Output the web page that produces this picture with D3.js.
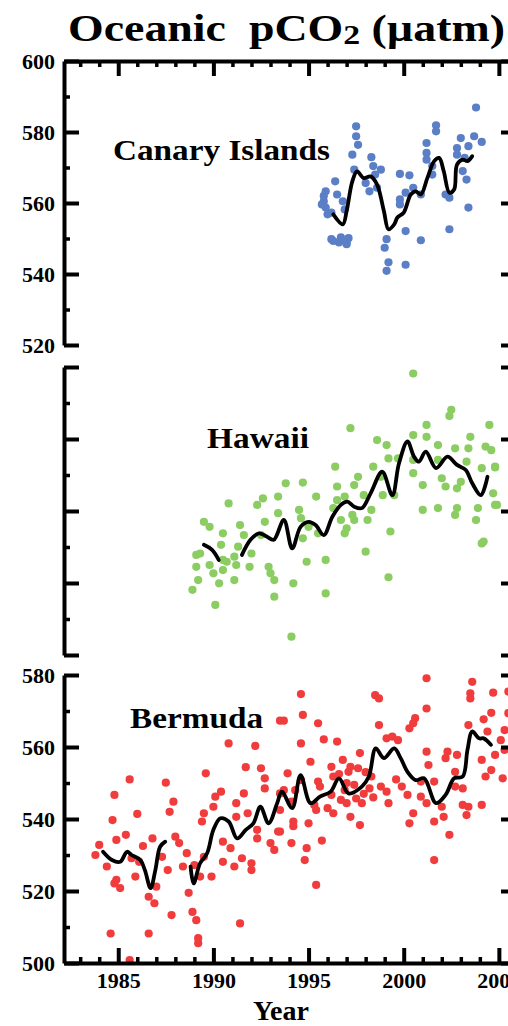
<!DOCTYPE html>
<html>
<head>
<meta charset="utf-8">
<script src="https://cdn.jsdelivr.net/npm/d3@7"></script>
<style>
  body { margin: 0; background: #fff; }
  svg text { font-family: "Liberation Serif", "Times New Roman", serif; font-weight: bold; }
</style>
</head>
<body>
<div id="chart"></div>
<script>
// observed pCO2 samples, [year, uatm]
var canaryObs = [[2003.8,586.9],[1997.5,581.6],[1997.5,578.8],[1997.6,576.4],[2001.7,581.9],[2001.7,580.2],[2001.2,576.9],[2003.0,578.3],[2003.7,578.8],[2004.1,577.2],[2003.4,576.0],[2002.8,575.5],[1997.3,573.6],[1998.3,572.9],[2001.2,574.1],[2001.2,572.2],[2002.8,573.6],[2003.2,572.7],[1997.4,569.4],[1998.4,570.4],[1998.8,569.4],[1998.5,568.0],[1999.8,568.2],[2000.3,567.8],[2001.5,570.4],[2001.5,568.0],[2003.1,569.0],[2003.3,566.6],[1996.4,566.1],[1995.9,563.3],[1995.8,560.5],[1995.9,558.7],[1996.2,557.3],[1996.5,562.4],[1996.8,560.5],[1996.9,558.2],[1998.0,565.6],[1998.2,563.3],[1998.6,564.3],[1999.8,561.0],[2000.1,562.9],[2000.5,564.3],[2000.9,562.4],[2002.2,562.4],[2002.4,561.5],[2003.4,558.7],[1996.2,549.8],[1996.7,550.3],[1997.1,550.1],[1997.0,548.4],[1996.6,548.9],[1999.1,549.8],[1999.0,547.4],[1999.2,543.3],[1999.1,540.9],[2000.1,542.6],[2000.1,552.1],[2000.9,549.5],[2002.4,552.6],[1999.8,559.6],[1995.8,562.0],[1995.7,559.6],[1996.0,556.8],[1996.3,549.3],[1997.0,548.9]];
var hawaiiObs = [[2002.5,368.1],[2002.4,366.4],[2001.2,363.9],[2004.5,363.9],[1997.2,363.0],[2000.5,361.1],[2001.2,360.6],[2003.5,360.6],[1998.6,359.7],[1999.1,358.3],[2001.8,358.3],[2002.7,357.4],[2003.4,357.4],[2004.3,357.9],[2004.6,356.9],[1999.2,354.6],[1999.7,354.6],[2000.5,354.2],[2001.8,354.2],[2003.3,353.7],[1996.4,352.3],[1998.4,352.3],[2004.1,351.9],[2004.8,352.1],[2000.5,350.5],[1997.6,349.5],[1998.8,349.5],[2002.0,349.1],[2003.0,348.1],[1993.8,347.7],[1994.7,347.9],[1996.5,346.8],[1997.4,347.2],[2001.0,347.2],[2002.2,346.8],[2002.8,346.3],[2004.7,344.9],[1992.6,343.5],[1993.4,344.0],[1995.4,344.0],[1996.5,343.0],[1996.9,344.0],[1997.9,344.4],[1998.9,344.4],[1999.5,344.4],[1990.8,342.1],[1992.3,341.7],[1994.5,340.3],[1996.3,340.8],[1997.3,338.9],[1998.3,340.3],[2001.0,340.3],[2001.8,340.8],[2002.8,340.8],[2003.9,340.8],[2004.8,341.7],[1993.4,339.4],[1994.6,338.0],[2002.7,338.9],[2003.8,337.5],[1989.5,337.0],[1989.8,335.6],[1992.7,337.0],[1996.7,337.5],[1997.4,337.5],[1998.1,337.5],[1991.4,336.1],[1995.0,335.6],[1997.0,335.2],[1991.6,333.3],[1990.5,333.8],[1992.5,333.3],[1994.7,332.4],[1995.5,333.8],[1996.9,333.8],[1999.3,334.3],[1990.4,330.6],[1991.3,330.1],[1992.0,328.2],[1991.1,327.3],[2004.1,331.0],[2004.2,331.5],[1989.1,327.8],[1989.3,328.2],[1990.5,326.4],[1990.7,325.9],[1998.0,328.7],[1994.9,325.9],[1995.9,326.4],[1989.1,324.5],[1989.8,325.0],[1990.5,323.6],[1991.2,325.0],[1991.9,324.5],[1992.9,324.5],[1993.0,322.7],[1993.2,320.8],[1989.2,320.8],[1990.0,322.7],[1990.3,319.9],[1991.1,320.8],[1994.2,319.9],[1999.2,321.6],[1988.9,318.1],[1993.2,316.2],[1995.9,317.1],[1990.1,313.9],[1994.1,305.1],[2000.5,378.2],[2004.9,341.7],[2004.8,352.3]];
var bermudaObs = [[1993.5,567.3],[1990.8,561.0],[1992.2,560.3],[1991.7,554.4],[1992.5,554.1],[1985.6,551.0],[1987.5,550.1],[1989.6,552.7],[1992.7,551.3],[1992.7,548.5],[1984.8,546.7],[1987.9,544.8],[1990.1,546.2],[1990.0,543.4],[1990.4,547.6],[1991.2,544.4],[1991.6,547.1],[1993.7,548.0],[1987.7,542.0],[1986.0,541.4],[1989.5,541.6],[1984.7,539.7],[1989.4,539.3],[1991.2,540.6],[1991.8,541.6],[1992.3,537.0],[1993.4,536.5],[1985.4,535.6],[1984.0,532.8],[1984.9,534.2],[1986.3,532.5],[1986.8,534.6],[1988.0,535.1],[1988.2,533.3],[1990.5,533.7],[1990.9,531.9],[1992.3,534.6],[1993.0,533.3],[1993.2,531.4],[1983.8,530.0],[1984.4,526.8],[1985.7,529.1],[1986.1,528.1],[1987.3,529.5],[1988.6,530.5],[1989.0,527.2],[1989.5,529.5],[1990.5,528.1],[1991.1,526.8],[1991.5,529.1],[1992.0,527.7],[1992.0,525.8],[1987.6,525.8],[1988.4,526.8],[1985.9,524.0],[1984.9,523.1],[1984.8,522.1],[1985.1,520.8],[1987.0,521.2],[1989.3,524.0],[1989.9,524.0],[1986.6,518.4],[1986.9,516.6],[1988.7,519.5],[1987.8,513.3],[1988.9,514.2],[1989.1,511.9],[1991.4,511.0],[1984.6,508.2],[1986.6,508.2],[1989.2,506.9],[1989.2,505.5],[1985.6,500.8],
  [2001.2,579.1],[2003.6,578.1],[2003.5,574.9],[2003.5,573.5],[2004.7,575.1],[2005.5,575.4],[1994.6,574.7],[1998.5,574.4],[1998.7,573.5],[1994.7,568.9],[2001.2,570.7],[2004.6,569.5],[2005.5,569.4],[1993.7,567.3],[1995.5,566.6],[1998.7,566.1],[2000.6,568.0],[2000.5,566.6],[2000.3,565.2],[2003.4,566.1],[2004.2,567.7],[2004.4,564.3],[2005.3,564.7],[1995.8,562.1],[1996.5,561.5],[1994.6,561.0],[1999.1,562.4],[1999.4,562.9],[1999.7,561.9],[2005.1,561.9],[2005.3,559.2],[2004.8,557.8],[1997.7,558.3],[1995.1,555.9],[1996.8,556.4],[1996.2,554.5],[1997.2,554.5],[2001.2,558.7],[2002.3,558.7],[2002.8,557.8],[2002.2,556.9],[2001.3,555.0],[2004.1,556.4],[2004.6,553.6],[1993.9,552.7],[1994.6,550.8],[1995.5,550.4],[1996.3,551.8],[1997.1,553.1],[1997.6,554.1],[1998.3,551.8],[2001.6,550.4],[2000.9,550.4],[2002.7,553.1],[2004.3,551.8],[2005.2,551.3],[1993.5,547.1],[1994.3,548.0],[1995.6,549.0],[1996.2,546.7],[1996.7,545.3],[1997.5,545.7],[1998.2,548.5],[1999.1,547.6],[2000.2,546.7],[2000.9,546.2],[2002.7,549.0],[2003.1,548.5],[1994.1,544.8],[1995.3,543.9],[1996.0,543.0],[1997.0,544.4],[1997.8,544.4],[1999.2,544.4],[2001.2,544.4],[2002.0,543.4],[2003.1,543.9],[2003.4,543.4],[2004.1,543.9],[1993.5,542.5],[1995.4,542.5],[1996.3,541.6],[1997.2,540.6],[2000.5,541.6],[2002.1,540.6],[2003.3,541.1],[1994.2,539.3],[1995.0,538.8],[2000.3,538.8],[2001.6,539.3],[1994.2,538.0],[1997.7,538.3],[1993.5,536.5],[2002.4,535.6],[1994.1,533.3],[1995.7,534.0],[1994.9,531.9],[1994.8,528.6],[2001.6,528.6],[1995.4,521.7],
  [1996.6,552.5],[1997.0,550.0],[1997.4,549.5],[1997.9,547.0],[1998.4,546.0],[1998.8,549.0],[1999.6,551.0],[1999.9,549.0],[1996.9,548.0],[1998.0,553.0]];

// smoothed curves (gaps split into separate pieces)
var canaryFit = [[1996.3,556.8],[1996.8,554.0],[1997.0,557.7],[1997.3,566.1],[1997.55,568.9],[1997.9,567.0],[1998.26,567.5],[1998.6,565.2],[1998.96,557.7],[1999.2,552.6],[1999.5,554.0],[1999.67,555.9],[2000.0,557.3],[2000.37,562.4],[2000.63,563.3],[2000.9,562.4],[2001.24,567.0],[2001.6,571.8],[2001.86,572.7],[2002.1,569.0],[2002.4,562.9],[2002.65,563.8],[2002.8,570.8],[2003.1,572.2],[2003.35,571.8],[2003.6,573.2]];
var hawaiiFitA = [[1989.5,330.6],[1989.93,329.2],[1990.28,326.4]];
var hawaiiFitB = [[1991.5,327.8],[1991.95,332.0],[1992.4,333.8],[1992.8,332.9],[1993.17,332.0],[1993.7,337.5],[1994.14,329.6],[1994.58,335.6],[1995.0,337.0],[1995.37,336.1],[1995.8,333.3],[1996.25,338.4],[1996.7,341.7],[1997.03,342.6],[1997.4,341.2],[1997.8,340.8],[1998.26,344.9],[1998.87,350.9],[1999.4,344.4],[1999.75,353.2],[2000.2,359.3],[2000.54,355.1],[2000.8,353.7],[2001.16,356.5],[2001.7,351.9],[2002.3,355.1],[2002.8,352.8],[2003.26,351.4],[2003.6,347.7],[2004.05,344.4],[2004.4,349.5]];
var bermudaFitA = [[1984.2,530.9],[1984.67,528.6],[1985.1,528.1],[1985.46,530.9],[1985.7,530.0],[1986.16,528.6],[1986.4,525.8],[1986.7,520.8],[1986.95,525.8],[1987.2,532.3],[1987.47,533.7]];
var bermudaFitB = [[1988.8,526.8],[1988.96,522.1],[1989.3,527.7],[1989.67,530.5],[1990.0,537.0],[1990.37,540.2],[1990.8,539.3],[1991.25,534.6],[1991.7,537.0],[1992.1,538.8],[1992.47,543.4],[1992.9,538.8],[1993.35,544.4],[1993.6,547.6],[1994.14,543.0],[1994.58,552.2],[1995.1,544.4],[1995.6,546.2],[1996.16,547.6],[1996.6,551.3],[1997.1,547.1],[1997.8,549.0],[1998.17,551.8],[1998.53,559.6],[1998.96,556.9],[1999.5,559.6],[1999.84,556.9],[2000.2,553.1],[2000.63,550.8],[2001.07,551.3],[2001.7,544.4],[2002.2,546.7],[2002.65,551.3],[2003.1,551.8],[2003.35,559.2],[2003.6,564.3],[2003.96,562.4],[2004.2,562.4],[2004.58,560.6]];

// tick values
var yearMajor = [1985, 1990, 1995, 2000, 2005];
var yearMinor = d3.range(1983, 2006).filter(function(y){ return y % 5 != 0; });
var canaryTicks = [520, 540, 560, 580, 600];
var hawaiiTicks = [300, 320, 340, 360, 380];
var bermudaTicks = [500, 520, 540, 560, 580];

var W = 508, H = 1026;
var xLeft = 64, xRight = 516;

var svg = d3.select("#chart").append("svg")
  .attr("width", W).attr("height", H);

var x = d3.scaleLinear().domain([1982.15, 2005.9]).range([xLeft, xRight]);

// panel layout
var panels = [
  {name:"Canary Islands", obs:canaryObs, fits:[canaryFit], color:"#5b7fc6", ticks:canaryTicks,
   top:61, bottom:345, labels:true, topAxis:true, bottomAxis:false, lx:113, ly:160, lw:217},
  {name:"Hawaii", obs:hawaiiObs, fits:[hawaiiFitA, hawaiiFitB], color:"#8bcd62", ticks:hawaiiTicks,
   top:367, bottom:655, labels:false, topAxis:false, bottomAxis:false, lx:207, ly:448, lw:102},
  {name:"Bermuda", obs:bermudaObs, fits:[bermudaFitA, bermudaFitB], color:"#f03c3c", ticks:bermudaTicks,
   top:675, bottom:963, labels:true, topAxis:false, bottomAxis:true, lx:130, ly:728, lw:133}
];

function styleAxis(g, width) {
  g.select(".domain").attr("stroke", "#000").attr("stroke-width", 4);
  g.selectAll(".tick line").attr("stroke", "#000").attr("stroke-width", width);
  g.selectAll(".tick text").attr("fill", "#000").style("font-size", "22px");
}

panels.forEach(function(p) {
  var y = d3.scaleLinear().domain([p.ticks[0], p.ticks[p.ticks.length-1]]).range([p.bottom, p.top]);
  var minorY = d3.range(p.ticks[0] + 10, p.ticks[p.ticks.length-1], 20);
  var g = svg.append("g");

  // dots
  g.selectAll(".dot").data(p.obs).enter().append("circle")
    .attr("class", "dot")
    .attr("cx", function(d){ return x(d[0]); })
    .attr("cy", function(d){ return y(d[1]); })
    .attr("r", 4.1)
    .attr("fill", p.color);

  // smoothed line
  var line = d3.line()
    .x(function(d){ return x(d[0]); })
    .y(function(d){ return y(d[1]); })
    .curve(d3.curveCatmullRom.alpha(0.5));
  p.fits.forEach(function(f) {
    g.append("path").attr("d", line(f))
      .attr("fill", "none").attr("stroke", "#000")
      .attr("stroke-width", 3.8).attr("stroke-linejoin", "round").attr("stroke-linecap", "round");
  });

  // left axis
  var left = g.append("g").attr("transform", "translate(" + xLeft + ",0)")
    .call(d3.axisLeft(y).tickValues(p.ticks).tickSizeInner(-15).tickSizeOuter(0).tickPadding(9)
      .tickFormat(p.labels ? d3.format("d") : function(){ return ""; }));
  styleAxis(left, 4);
  var leftMinor = g.append("g").attr("transform", "translate(" + xLeft + ",0)")
    .call(d3.axisLeft(y).tickValues(minorY).tickSize(-6).tickFormat(""));
  leftMinor.select(".domain").remove();
  styleAxis(leftMinor, 3.5);

  // right axis (mostly cut off by the window edge)
  var right = g.append("g").attr("transform", "translate(" + xRight + ",0)")
    .call(d3.axisRight(y).tickValues(p.ticks).tickSizeInner(-15).tickSizeOuter(0).tickFormat(""));
  styleAxis(right, 4);

  if (p.topAxis) {
    var top = g.append("g").attr("transform", "translate(0," + p.top + ")")
      .call(d3.axisTop(x).tickValues(yearMajor).tickSizeInner(-15).tickSizeOuter(0).tickFormat(""));
    styleAxis(top, 4);
    var topMinor = g.append("g").attr("transform", "translate(0," + p.top + ")")
      .call(d3.axisTop(x).tickValues(yearMinor).tickSize(-6).tickFormat(""));
    topMinor.select(".domain").remove();
    styleAxis(topMinor, 3.5);
  }
  if (p.bottomAxis) {
    var bot = g.append("g").attr("transform", "translate(0," + p.bottom + ")")
      .call(d3.axisBottom(x).tickValues(yearMajor).tickSizeInner(-15).tickSizeOuter(0).tickPadding(9)
        .tickFormat(d3.format("d")));
    styleAxis(bot, 4);
    var botMinor = g.append("g").attr("transform", "translate(0," + p.bottom + ")")
      .call(d3.axisBottom(x).tickValues(yearMinor).tickSize(-6).tickFormat(""));
    botMinor.select(".domain").remove();
    styleAxis(botMinor, 3.5);
  }

  // site label
  g.append("text").attr("x", p.lx).attr("y", p.ly)
    .attr("textLength", p.lw).attr("lengthAdjust", "spacingAndGlyphs")
    .style("font-size", "29px").text(p.name);
});

// title
var title = svg.append("text").attr("x", 68).attr("y", 41)
  .attr("textLength", 437).attr("lengthAdjust", "spacingAndGlyphs")
  .style("font-size", "38px").style("white-space", "pre");
title.append("tspan").text("Oceanic  pCO");
title.append("tspan").attr("dy", 3).style("font-size", "28px").text("2");
title.append("tspan").attr("dy", -3).text(" (\u00b5atm)");

// x axis title
svg.append("text").attr("x", 281).attr("y", 1020).attr("text-anchor", "middle")
  .style("font-size", "28px").text("Year");
</script>
</body>
</html>
